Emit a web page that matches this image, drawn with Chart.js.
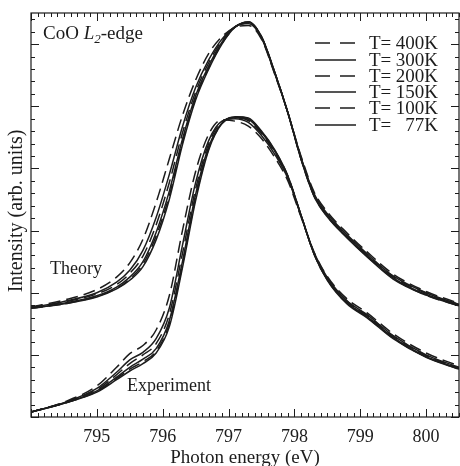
<!DOCTYPE html>
<html>
<head>
<meta charset="utf-8">
<script src="https://cdn.jsdelivr.net/npm/chart.js@4.4.0/dist/chart.umd.min.js"></script>
<style>
  body { margin: 0; background: #fff; }
  canvas { display: block; }
</style>
</head>
<body>
<canvas id="spectra" width="460" height="466"></canvas>
<script>
// photon energy grid (eV), shared by all spectra
var energy = [794.0, 794.5, 795.0, 795.3, 795.5, 795.7, 795.9, 796.1, 796.3, 796.5, 796.7, 796.9,
              797.1, 797.3, 797.5, 797.7, 797.9, 798.1, 798.3, 798.5, 798.8, 799.1, 799.5, 800.0, 800.5];

var temps = ['400K', '300K', '200K', '150K', '100K', '77K'];
var dashed = [true, false, true, false, true, false];

// calculated spectra (offset upward)
var theory400 = [1.77, 1.88, 2.05, 2.25, 2.48, 2.86, 3.45, 4.15, 4.85, 5.42, 5.85, 6.12, 6.27, 6.30, 6.08, 5.52, 4.90, 4.20, 3.62, 3.30, 2.96, 2.66, 2.30, 2.02, 1.83];
var theory300 = [1.76, 1.86, 2.00, 2.17, 2.36, 2.68, 3.21, 3.90, 4.67, 5.30, 5.75, 6.08, 6.28, 6.33, 6.10, 5.53, 4.90, 4.18, 3.59, 3.27, 2.93, 2.63, 2.27, 2.00, 1.81];
var theory200 = [1.76, 1.85, 1.98, 2.13, 2.31, 2.59, 3.09, 3.77, 4.57, 5.23, 5.70, 6.06, 6.28, 6.34, 6.11, 5.54, 4.90, 4.17, 3.58, 3.26, 2.92, 2.62, 2.26, 1.99, 1.81];
var theory150 = [1.75, 1.83, 1.95, 2.09, 2.25, 2.50, 2.97, 3.63, 4.47, 5.17, 5.65, 6.03, 6.28, 6.35, 6.12, 5.55, 4.90, 4.16, 3.56, 3.24, 2.90, 2.60, 2.24, 1.97, 1.80];
var theory100 = [1.75, 1.82, 1.94, 2.07, 2.22, 2.46, 2.91, 3.56, 4.42, 5.13, 5.62, 6.01, 6.27, 6.36, 6.12, 5.55, 4.90, 4.15, 3.55, 3.23, 2.89, 2.59, 2.23, 1.96, 1.79];
var theory77  = [1.75, 1.82, 1.93, 2.06, 2.20, 2.42, 2.85, 3.50, 4.38, 5.10, 5.60, 6.00, 6.27, 6.36, 6.12, 5.55, 4.90, 4.15, 3.55, 3.22, 2.88, 2.58, 2.22, 1.96, 1.79];

// measured spectra
var exp400 = [0.08, 0.24, 0.50, 0.80, 1.02, 1.15, 1.40, 1.95, 3.00, 3.95, 4.55, 4.78, 4.76, 4.68, 4.48, 4.18, 3.80, 3.22, 2.65, 2.26, 1.90, 1.68, 1.34, 1.03, 0.82];
var exp300 = [0.08, 0.23, 0.46, 0.72, 0.92, 1.04, 1.26, 1.75, 2.76, 3.77, 4.45, 4.76, 4.80, 4.74, 4.53, 4.23, 3.84, 3.24, 2.64, 2.24, 1.87, 1.65, 1.31, 1.00, 0.80];
var exp200 = [0.08, 0.23, 0.44, 0.68, 0.86, 1.00, 1.18, 1.65, 2.63, 3.67, 4.40, 4.75, 4.81, 4.77, 4.56, 4.26, 3.86, 3.24, 2.63, 2.23, 1.86, 1.64, 1.30, 0.99, 0.79];
var exp150 = [0.08, 0.22, 0.42, 0.64, 0.80, 0.93, 1.10, 1.55, 2.50, 3.58, 4.35, 4.73, 4.82, 4.79, 4.58, 4.28, 3.87, 3.25, 2.62, 2.21, 1.84, 1.62, 1.28, 0.97, 0.78];
var exp100 = [0.08, 0.22, 0.41, 0.62, 0.77, 0.89, 1.06, 1.50, 2.45, 3.53, 4.32, 4.72, 4.83, 4.80, 4.59, 4.29, 3.88, 3.25, 2.62, 2.21, 1.83, 1.61, 1.27, 0.97, 0.77];
var exp77  = [0.08, 0.22, 0.40, 0.60, 0.74, 0.86, 1.03, 1.45, 2.40, 3.48, 4.30, 4.72, 4.83, 4.81, 4.60, 4.30, 3.88, 3.25, 2.62, 2.20, 1.82, 1.60, 1.26, 0.96, 0.77];

var xTicks = [795, 796, 797, 798, 799, 800];

var theorySets = [theory400, theory300, theory200, theory150, theory100, theory77];
var expSets = [exp400, exp300, exp200, exp150, exp100, exp77];

var SERIF = '"Liberation Serif", "Times New Roman", serif';
var INK = '#1c1c1c';
var DASH = [12, 6];

function makeSet(label, values, i) {
  return {
    label: label,
    data: values.map(function (v, k) { return { x: energy[k], y: v }; }),
    borderColor: INK,
    borderWidth: 1.5,
    borderDash: dashed[i] ? DASH : [],
    pointRadius: 0,
    fill: false,
    cubicInterpolationMode: 'monotone'
  };
}

var datasets = [];
temps.forEach(function (t, i) { datasets.push(makeSet('Theory ' + t, theorySets[i], i)); });
temps.forEach(function (t, i) { datasets.push(makeSet('Experiment ' + t, expSets[i], i)); });

// box with inward ticks on all four sides, plus labels and legend
var decorations = {
  id: 'decorations',
  afterDraw: function (chart) {
    var ctx = chart.ctx, a = chart.chartArea;
    var sx = chart.scales.x, sy = chart.scales.y;
    ctx.save();
    ctx.strokeStyle = INK;
    ctx.lineWidth = 1.2;
    ctx.strokeRect(a.left, a.top, a.right - a.left, a.bottom - a.top);

    ctx.lineWidth = 1;
    ctx.beginPath();
    for (var i = 0; i <= 65; i++) {
      var px = Math.round(sx.getPixelForValue(794 + i * 0.1)) + 0.5;
      var len = i % 10 === 0 ? 8 : 4;
      ctx.moveTo(px, a.bottom); ctx.lineTo(px, a.bottom - len);
      ctx.moveTo(px, a.top); ctx.lineTo(px, a.top + len);
    }
    for (var j = 0; j <= 32; j++) {
      var py = Math.round(sy.getPixelForValue(j * 0.2)) + 0.5;
      var ylen = j % 5 === 0 ? 8 : 4;
      ctx.moveTo(a.left, py); ctx.lineTo(a.left + ylen, py);
      ctx.moveTo(a.right, py); ctx.lineTo(a.right - ylen, py);
    }
    ctx.stroke();

    ctx.fillStyle = INK;
    ctx.textBaseline = 'alphabetic';

    // panel title: CoO L2-edge
    ctx.textAlign = 'left';
    var x = 43, base = 39;
    ctx.font = '19px ' + SERIF;
    ctx.fillText('CoO ', x, base); x += ctx.measureText('CoO ').width;
    ctx.font = 'italic 19px ' + SERIF;
    ctx.fillText('L', x, base); x += ctx.measureText('L').width;
    ctx.font = 'italic 13px ' + SERIF;
    ctx.fillText('2', x, base + 4); x += ctx.measureText('2').width;
    ctx.font = '19px ' + SERIF;
    ctx.fillText('-edge', x, base);

    ctx.font = '18px ' + SERIF;
    ctx.fillText('Theory', 50, 274);
    ctx.fillText('Experiment', 127, 391);

    // legend
    ctx.font = '19px ' + SERIF;
    var rows = [43, 60, 76, 92, 108, 125];
    temps.forEach(function (t, i) {
      var ly = rows[i];
      ctx.setLineDash(dashed[i] ? [15, 10] : []);
      ctx.lineWidth = 1.5;
      ctx.beginPath();
      ctx.moveTo(315, ly); ctx.lineTo(356, ly);
      ctx.stroke();
      ctx.setLineDash([]);
      ctx.textAlign = 'left';
      ctx.fillText('T=', 369, ly + 6);
      ctx.textAlign = 'right';
      ctx.fillText(t, 438, ly + 6);
    });

    // axis titles
    ctx.textAlign = 'center';
    ctx.font = '19px ' + SERIF;
    ctx.fillText('Photon energy (eV)', 245, 463);
    ctx.save();
    ctx.translate(22, 211);
    ctx.rotate(-Math.PI / 2);
    ctx.font = '20px ' + SERIF;
    ctx.fillText('Intensity (arb. units)', 0, 0);
    ctx.restore();
    ctx.restore();
  }
};

new Chart(document.getElementById('spectra'), {
  type: 'line',
  data: { datasets: datasets },
  options: {
    responsive: false,
    animation: false,
    layout: { padding: { left: 31, top: 13, right: 1, bottom: 0 } },
    scales: {
      x: {
        type: 'linear',
        min: 794,
        max: 800.5,
        afterBuildTicks: function (s) { s.ticks = xTicks.map(function (v) { return { value: v }; }); },
        afterFit: function (s) { s.height = 49; },
        grid: { display: false, drawTicks: false },
        border: { display: false },
        ticks: {
          font: { family: SERIF, size: 18 },
          color: INK,
          padding: 9,
          maxRotation: 0
        }
      },
      y: {
        display: false,
        min: 0,
        max: 6.5
      }
    },
    plugins: {
      legend: { display: false },
      tooltip: { enabled: false }
    }
  },
  plugins: [decorations]
});
</script>
</body>
</html>
